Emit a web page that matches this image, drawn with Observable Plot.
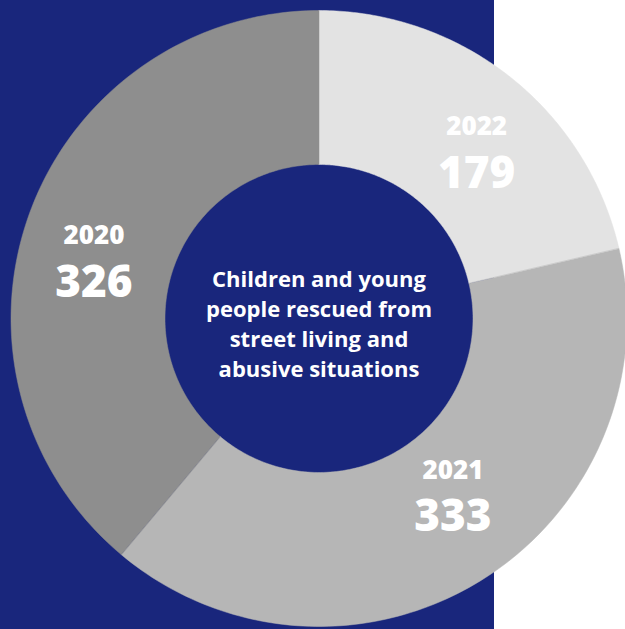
<!DOCTYPE html>
<html>
<head>
<meta charset="utf-8">
<script src="https://cdn.jsdelivr.net/npm/d3@7"></script>
<script src="https://cdn.jsdelivr.net/npm/@observablehq/plot@0.6"></script>
<style>
  html, body { margin: 0; padding: 0; background: #fff; }
  #chart svg { display: block; background: linear-gradient(to right, #19267c 0px, #19267c 494px, #ffffff 494px); }
</style>
</head>
<body>
<div id="chart"></div>
<script>
// Data
const years = ["2022", "2021", "2020"];
const values = [179, 333, 326];
const colors = ["#e3e3e3", "#b6b6b6", "#8e8e8e"];
const centerLabel = "Children and young\npeople rescued from\nstreet living and\nabusive situations";

const W = 625, H = 629;
const cx = 318.5, cy = 318;
const R = 308, r0 = 154;

const slices = years.map((year, i) => ({year, value: values[i], color: colors[i]}));
const pie = d3.pie().sort(null).value(d => d.value)(slices);

// Annular-sector polygons in data space (center at 0,0, y up)
const pts = [];
for (const a of pie) {
  const n = 120;
  for (let k = 0; k <= n; k++) {
    const t = a.startAngle + (a.endAngle - a.startAngle) * k / n;
    pts.push({year: a.data.year, x: R * Math.sin(t), y: R * Math.cos(t)});
  }
  for (let k = n; k >= 0; k--) {
    const t = a.startAngle + (a.endAngle - a.startAngle) * k / n;
    pts.push({year: a.data.year, x: r0 * Math.sin(t), y: r0 * Math.cos(t)});
  }
}
const labels = pie.map(a => {
  const m = (a.startAngle + a.endAngle) / 2, rr = (R + r0) / 2;
  return {year: a.data.year, value: a.data.value, x: rr * Math.sin(m), y: rr * Math.cos(m)};
});

// label nudges (pixels) from each slice centroid
const nudge = {"2022": [14, 12], "2021": [13, -22], "2020": [-8, 19]};

const font = "'Open Sans', sans-serif";
const labelMarks = labels.flatMap(l => {
  const [ndx, ndy] = nudge[l.year];
  return [
    Plot.text([l], {x: "x", y: "y", text: "year", dx: ndx, dy: ndy - 23, fill: "white", fontSize: 26, fontWeight: 800, fontFamily: font}),
    Plot.text([l], {x: "x", y: "y", text: d => String(d.value), dx: ndx, dy: ndy + 24, fill: "white", fontSize: 44, fontWeight: 800, fontFamily: font})
  ];
});

const chart = Plot.plot({
  width: W, height: H, margin: 0,
  x: {domain: [-cx, W - cx], axis: null},
  y: {domain: [-(H - cy), cy], axis: null},
  color: {domain: years, range: colors},
  style: {fontFamily: font},
  marks: [
    Plot.line(pts, {x: "x", y: "y", z: "year", fill: "year", stroke: "year", strokeWidth: 0.5, curve: "linear-closed"}),
    ...labelMarks,
    Plot.text([centerLabel], {x: () => 0, y: () => 0, text: d => d, dy: 4, fill: "white", fontSize: 22, fontWeight: 700, lineHeight: 1.36, fontFamily: font})
  ]
});
document.getElementById("chart").appendChild(chart);
</script>
</body>
</html>
